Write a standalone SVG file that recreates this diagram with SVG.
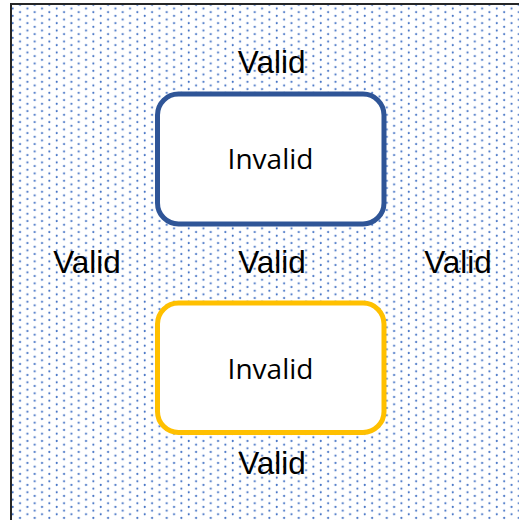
<svg xmlns="http://www.w3.org/2000/svg" width="519" height="520" viewBox="0 0 519 520">
  <style>
    .valid { font-family: "Liberation Sans", Arial, sans-serif; font-size: 31.5px; fill: #000; text-anchor: middle; }
    .inv { font-family: "Open Sans", "Noto Sans", sans-serif; font-size: 28px; fill: #000; text-anchor: middle; }
    .box { fill: #ffffff; stroke-width: 5; }
  </style>
  <defs>
    <pattern id="dots" patternUnits="userSpaceOnUse" x="9.03" y="-0.63" width="14.67" height="7.33">
      <circle cx="3.67" cy="1.83" r="1.05" fill="#4472C4"/>
      <circle cx="11" cy="5.5" r="1.05" fill="#4472C4"/>
    </pattern>
  </defs>
  <rect width="519" height="520" fill="#ffffff"/>
  <g id="background">
    <rect x="11" y="4" width="520" height="530" fill="url(#dots)" stroke="#262626" stroke-width="2"/>
  </g>
  <g id="invalid-blue">
    <rect class="box" x="157.5" y="94" width="226.5" height="130" rx="21" ry="21" stroke="#2F5597"/>
    <text class="inv" x="270.5" y="169.3">Invalid</text>
  </g>
  <g id="invalid-yellow">
    <rect class="box" x="157.5" y="303" width="226.5" height="129.5" rx="21" ry="21" stroke="#FFC000"/>
    <text class="inv" x="270.5" y="379.3">Invalid</text>
  </g>
  <g id="valid-top"><text class="valid" x="271.6" y="73.3">Valid</text></g>
  <g id="valid-left"><text class="valid" x="87" y="273.3">Valid</text></g>
  <g id="valid-center"><text class="valid" x="272" y="273.3">Valid</text></g>
  <g id="valid-right"><text class="valid" x="458" y="273.3">Valid</text></g>
  <g id="valid-bottom"><text class="valid" x="272" y="474">Valid</text></g>
  <g id="connectors"></g>
</svg>
